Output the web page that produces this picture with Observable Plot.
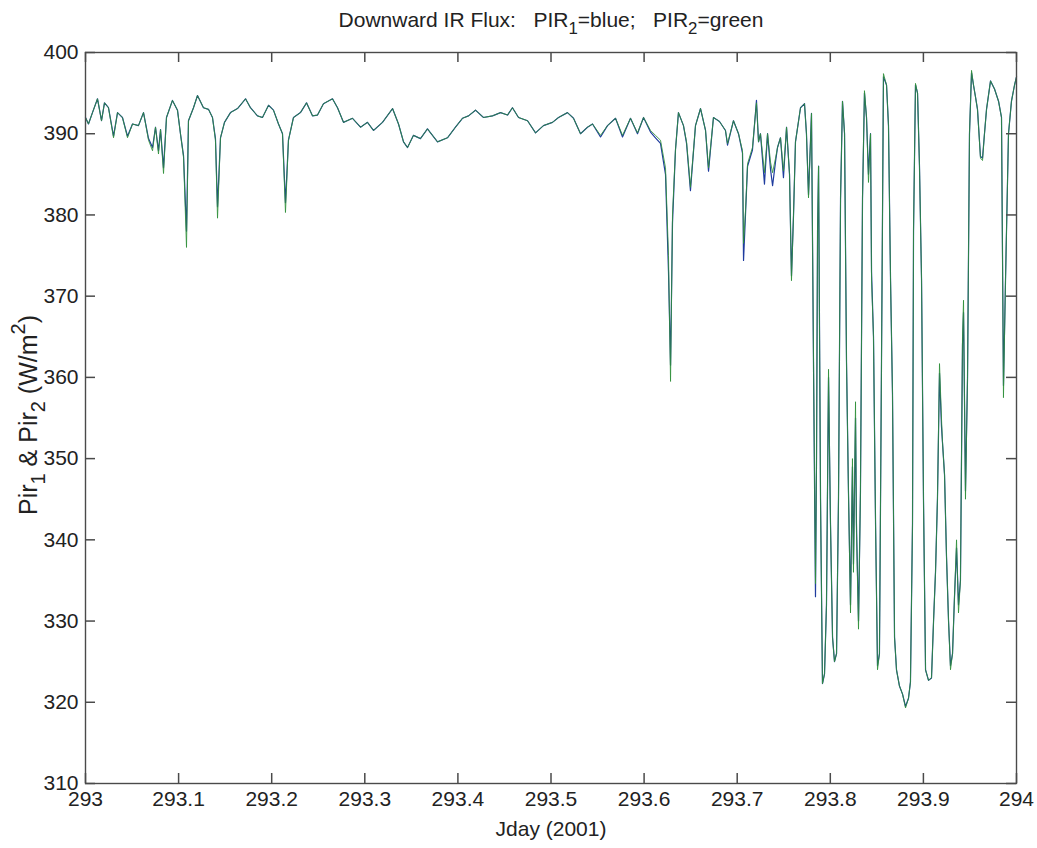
<!DOCTYPE html>
<html>
<head>
<meta charset="utf-8">
<script src="https://cdn.jsdelivr.net/npm/d3@7"></script>
<script src="https://cdn.jsdelivr.net/npm/@observablehq/plot@0.6"></script>
<style>
  html, body { margin: 0; padding: 0; background: #fff; }
</style>
</head>
<body>
<div id="chart"></div>
<script>
// ---- data ----
const jday = [
  293.0000, 293.0032, 293.0075, 293.0129, 293.0172, 293.0204, 293.0247, 293.0301, 293.0344, 293.0397,
  293.0451, 293.0505, 293.0569, 293.0623, 293.0677, 293.0720, 293.0752, 293.0784, 293.0806, 293.0838,
  293.0870, 293.0934, 293.0988, 293.1020, 293.1053, 293.1085, 293.1106, 293.1160, 293.1203, 293.1267,
  293.1321, 293.1364, 293.1396, 293.1418, 293.1450, 293.1493, 293.1557, 293.1633, 293.1719, 293.1772,
  293.1847, 293.1901, 293.1966, 293.2019, 293.2073, 293.2116, 293.2148, 293.2180, 293.2234, 293.2309,
  293.2374, 293.2438, 293.2492, 293.2556, 293.2653, 293.2707, 293.2771, 293.2868, 293.2954, 293.3029,
  293.3093, 293.3190, 293.3298, 293.3362, 293.3416, 293.3459, 293.3523, 293.3598, 293.3673, 293.3781,
  293.3888, 293.3974, 293.4049, 293.4114, 293.4189, 293.4275, 293.4372, 293.4458, 293.4533, 293.4586,
  293.4651, 293.4748, 293.4834, 293.4919, 293.5016, 293.5081, 293.5177, 293.5242, 293.5317, 293.5392,
  293.5446, 293.5532, 293.5607, 293.5693, 293.5768, 293.5854, 293.5929, 293.5994, 293.6069, 293.6122,
  293.6176, 293.6230, 293.6262, 293.6284, 293.6305, 293.6337, 293.6369, 293.6423, 293.6456, 293.6498,
  293.6552, 293.6606, 293.6660, 293.6692, 293.6745, 293.6810, 293.6874, 293.6896, 293.6960, 293.7014,
  293.7057, 293.7068, 293.7089, 293.7111, 293.7164, 293.7207, 293.7229, 293.7250, 293.7293, 293.7326,
  293.7358, 293.7380, 293.7412, 293.7433, 293.7465, 293.7497, 293.7530, 293.7562, 293.7583, 293.7605,
  293.7626, 293.7680, 293.7723, 293.7744, 293.7766, 293.7798, 293.7820, 293.7841, 293.7852, 293.7863,
  293.7874, 293.7895, 293.7916, 293.7938, 293.7959, 293.7981, 293.8002, 293.8024, 293.8045, 293.8067,
  293.8088, 293.8110, 293.8131, 293.8153, 293.8174, 293.8195, 293.8217, 293.8238, 293.8249, 293.8271,
  293.8281, 293.8303, 293.8324, 293.8346, 293.8367, 293.8389, 293.8410, 293.8432, 293.8443, 293.8464,
  293.8486, 293.8507, 293.8528, 293.8550, 293.8571, 293.8604, 293.8625, 293.8647, 293.8668, 293.8690,
  293.8711, 293.8743, 293.8776, 293.8808, 293.8840, 293.8861, 293.8883, 293.8894, 293.8915, 293.8937,
  293.8958, 293.8980, 293.9001, 293.9023, 293.9055, 293.9087, 293.9109, 293.9130, 293.9151, 293.9173,
  293.9194, 293.9205, 293.9227, 293.9248, 293.9270, 293.9291, 293.9313, 293.9334, 293.9356, 293.9377,
  293.9398, 293.9420, 293.9431, 293.9452, 293.9474, 293.9495, 293.9517, 293.9538, 293.9560, 293.9581,
  293.9613, 293.9635, 293.9656, 293.9678, 293.9721, 293.9764, 293.9807, 293.9839, 293.9860, 293.9882,
  293.9914, 293.9946, 293.9979, 294.0000
];

// PIR1 (blue)
const pir1 = [
  392.0, 391.2, 392.6, 394.3, 391.6, 393.8, 393.2, 389.7, 392.6, 392.0,
  389.7, 391.2, 391.0, 392.6, 389.4, 388.3, 390.8, 387.9, 390.5, 385.8,
  392.0, 394.1, 392.9, 390.0, 387.3, 378.0, 391.6, 393.2, 394.7, 393.2,
  393.0, 392.0, 389.4, 381.0, 389.5, 391.4, 392.6, 393.1, 394.3, 393.2,
  392.2, 392.0, 393.5, 392.9, 391.2, 390.0, 381.5, 389.2, 392.0, 392.6,
  393.8, 392.2, 392.3, 393.7, 394.3, 393.2, 391.4, 391.9, 390.8, 391.4,
  390.4, 391.4, 393.1, 391.2, 389.0, 388.3, 389.8, 389.4, 390.6, 389.0,
  389.5, 390.8, 391.9, 392.2, 392.9, 392.0, 392.2, 392.6, 392.3, 393.2,
  392.0, 391.6, 390.1, 391.0, 391.4, 392.0, 392.6, 391.9, 390.0, 390.8,
  391.2, 389.6, 391.0, 391.9, 389.6, 391.9, 390.0, 392.0, 390.2, 389.5,
  388.8, 385.0, 373.0, 361.5, 379.0, 388.0, 392.6, 391.0, 388.8, 383.0,
  391.0, 393.1, 390.4, 385.4, 392.0, 391.5, 390.4, 388.6, 391.6, 390.0,
  387.6, 374.4, 380.0, 386.0, 388.0, 394.1, 389.0, 390.0, 383.8, 390.0,
  385.6, 383.6, 386.6, 388.3, 389.5, 384.6, 390.8, 385.0, 372.5, 380.0,
  389.0, 393.2, 393.7, 390.0, 382.5, 392.5, 361.0, 333.0, 350.0, 378.0,
  386.0, 345.0, 322.3, 323.5, 332.0, 360.0, 342.0, 328.0, 325.0, 326.0,
  345.0, 382.0, 394.0, 390.0, 362.0, 346.0, 332.0, 349.0, 337.0, 355.0,
  342.0, 330.0, 346.0, 382.0, 395.0, 392.0, 385.0, 390.0, 373.0, 365.0,
  342.0, 324.5, 326.0, 362.0, 397.0, 396.0, 391.0, 372.0, 358.0, 328.0,
  324.0, 322.0, 321.0, 319.5, 320.5, 322.5, 342.0, 378.0, 396.0, 395.0,
  386.0, 372.0, 345.0, 324.0, 322.7, 323.0, 330.0, 336.0, 345.0, 360.5,
  354.0, 352.0, 348.0, 338.0, 330.0, 324.5, 326.0, 333.0, 339.0, 332.0,
  335.0, 364.0, 368.0, 346.0, 360.0, 390.0, 397.5, 396.0, 394.5, 393.0,
  387.2, 387.0, 390.0, 393.0, 396.5, 395.5, 394.0, 392.0, 359.0, 372.0,
  390.0, 394.0, 396.0, 397.0
];

// PIR2 (green)
const pir2 = [
  392.0, 391.2, 392.6, 394.3, 391.6, 393.8, 393.2, 389.5, 392.6, 392.0,
  389.5, 391.2, 391.0, 392.6, 389.2, 387.9, 390.8, 387.5, 390.5, 385.1,
  392.0, 394.1, 392.9, 390.0, 387.1, 376.0, 391.6, 393.2, 394.7, 393.2,
  393.0, 392.0, 389.2, 379.6, 389.5, 391.4, 392.6, 393.1, 394.3, 393.2,
  392.2, 392.0, 393.5, 392.9, 391.2, 390.0, 380.3, 389.2, 392.0, 392.6,
  393.8, 392.2, 392.3, 393.7, 394.3, 393.2, 391.4, 391.9, 390.8, 391.4,
  390.4, 391.4, 393.1, 391.2, 389.0, 388.3, 389.8, 389.4, 390.6, 389.0,
  389.5, 390.8, 391.9, 392.2, 392.9, 392.0, 392.2, 392.6, 392.3, 393.2,
  392.0, 391.6, 390.1, 391.0, 391.4, 392.0, 392.6, 391.9, 390.0, 390.8,
  391.2, 389.8, 391.0, 391.9, 389.8, 391.9, 390.1, 392.0, 390.4, 389.8,
  389.2, 385.8, 375.0, 359.5, 380.0, 388.0, 392.6, 391.0, 389.0, 383.4,
  391.0, 393.1, 390.4, 385.8, 392.0, 391.5, 390.4, 388.8, 391.6, 390.0,
  387.9, 376.5, 380.5, 386.3, 388.3, 393.8, 389.0, 390.0, 385.2, 390.0,
  386.5, 385.2, 387.0, 388.3, 389.5, 385.4, 390.8, 385.0, 371.9, 380.0,
  389.0, 393.2, 393.7, 390.0, 382.1, 392.5, 362.0, 334.6, 350.0, 378.0,
  386.0, 345.0, 322.3, 323.5, 332.0, 361.0, 342.0, 328.0, 325.0, 326.0,
  345.0, 382.0, 394.0, 390.0, 362.0, 346.0, 331.0, 350.0, 336.0, 357.0,
  341.0, 329.0, 346.0, 382.0, 395.3, 392.0, 384.0, 390.0, 372.0, 365.0,
  342.0, 324.0, 326.0, 362.0, 397.4, 396.0, 391.0, 372.0, 358.0, 328.0,
  324.0, 322.0, 321.0, 319.3, 320.5, 322.5, 342.0, 378.0, 396.2, 395.0,
  386.0, 372.0, 345.0, 324.0, 322.7, 323.0, 330.0, 336.0, 345.0, 361.7,
  355.0, 352.0, 348.0, 338.0, 330.0, 324.0, 326.0, 333.0, 340.0, 331.0,
  335.0, 365.0, 369.5, 345.0, 360.0, 390.0, 397.8, 396.0, 394.5, 393.0,
  387.0, 386.7, 390.0, 393.0, 396.5, 395.5, 394.0, 392.0, 357.5, 372.0,
  390.0, 394.0, 396.0, 397.0
];

const xTickValues = [293, 293.1, 293.2, 293.3, 293.4, 293.5, 293.6, 293.7, 293.8, 293.9, 294];
const xTickLabels = ["293", "293.1", "293.2", "293.3", "293.4", "293.5", "293.6", "293.7", "293.8", "293.9", "294"];
const yTickValues = [310, 320, 330, 340, 350, 360, 370, 380, 390, 400];
const yTickLabels = ["310", "320", "330", "340", "350", "360", "370", "380", "390", "400"];

// text pieces: [text, kind] with kind "" (normal), "sub" or "sup"
const NB = "\u00a0";
const titleParts = [["Downward IR Flux:" + NB + NB + NB + "PIR", ""], ["1", "sub"], ["=blue;" + NB + NB + NB + "PIR", ""], ["2", "sub"], ["=green", ""]];
const xLabelText = "Jday (2001)";
const yLabelParts = [["Pir", ""], ["1", "sub"], [" & Pir", ""], ["2", "sub"], [" (W/m", ""], ["2", "sup"], [")", ""]];

const titleText = titleParts.map(p => p[0]).join("");
const yLabelText = yLabelParts.map(p => p[0]).join("");

// ---- build table ----
const table = jday.map((t, i) => ({t, v1: pir1[i], v2: pir2[i]}));

// ---- layout / style ----
const W = 1037, H = 848;
const mLeft = 85, mRight = 21, mTop = 52, mBottom = 65;
const innerW = W - mLeft - mRight, innerH = H - mTop - mBottom;
const tickLen = 10;
const axisColor = "#4a4a4a";
const textColor = "#222";

const chart = Plot.plot({
  width: W,
  height: H,
  marginLeft: mLeft,
  marginRight: mRight,
  marginTop: mTop,
  marginBottom: mBottom,
  style: {fontFamily: "'Liberation Sans', Arial, Helvetica, sans-serif", fontSize: "21px", background: "#fff", color: textColor},
  x: {domain: [293, 294]},
  y: {domain: [310, 400]},
  marks: [
    Plot.lineY(table, {x: "t", y: "v1", stroke: "#1f3c9e", strokeWidth: 1.2}),
    Plot.lineY(table, {x: "t", y: "v2", stroke: "#2f8f3a", strokeWidth: 1.0, strokeOpacity: 0.85}),
    Plot.frame({stroke: axisColor, strokeWidth: 1.4}),
    // tick labels
    Plot.axisX({anchor: "bottom", ticks: xTickValues, tickSize: 0, tickPadding: 8, fill: textColor,
      tickFormat: (d, i) => xTickLabels[i], label: null}),
    Plot.axisY({anchor: "left", ticks: yTickValues, tickSize: 0, tickPadding: 7, fill: textColor,
      tickFormat: (d, i) => yTickLabels[i], label: null}),
    // title and axis labels
    Plot.text([titleText], {frameAnchor: "top", lineAnchor: "middle", textAnchor: "middle", dy: -32, text: d => d, fill: textColor, fontSize: 21}),
    Plot.text([xLabelText], {frameAnchor: "bottom", lineAnchor: "middle", textAnchor: "middle", dy: 46, text: d => d, fill: textColor, fontSize: 21}),
    Plot.text([yLabelText], {frameAnchor: "left", lineAnchor: "middle", textAnchor: "middle", dx: -57, dy: -3, rotate: -90, text: d => d, fill: textColor, fontSize: 25}),
    // inward tick marks on all four sides (MATLAB style), drawn last
    Plot.ruleX(xTickValues, {x: d => d, insetTop: innerH - tickLen, stroke: axisColor, strokeWidth: 1.5}),
    Plot.ruleX(xTickValues, {x: d => d, insetBottom: innerH - tickLen, stroke: axisColor, strokeWidth: 1.5}),
    Plot.ruleY(yTickValues, {y: d => d, insetRight: innerW - tickLen, stroke: axisColor, strokeWidth: 1.5}),
    Plot.ruleY(yTickValues, {y: d => d, insetLeft: innerW - tickLen, stroke: axisColor, strokeWidth: 1.5})
  ]
});

// rebuild title / y label with real sub- and superscripts
function withScripts(str, parts) {
  d3.select(chart).selectAll("text")
    .filter(function () { return this.textContent === str; })
    .each(function () {
      const el = d3.select(this);
      el.text(null).style("white-space", "pre");
      let shift = 0;
      for (const [txt, kind] of parts) {
        const target = kind === "sub" ? 0.32 : kind === "sup" ? -0.45 : 0;
        const ts = el.append("tspan").text(txt);
        const delta = target - shift;
        if (kind) ts.attr("font-size", "80%");
        if (delta !== 0) ts.attr("dy", (kind ? delta / 0.8 : delta) + "em");
        shift = target;
      }
    });
}
withScripts(titleText, titleParts);
withScripts(yLabelText, yLabelParts);

document.getElementById("chart").appendChild(chart);
</script>
</body>
</html>
